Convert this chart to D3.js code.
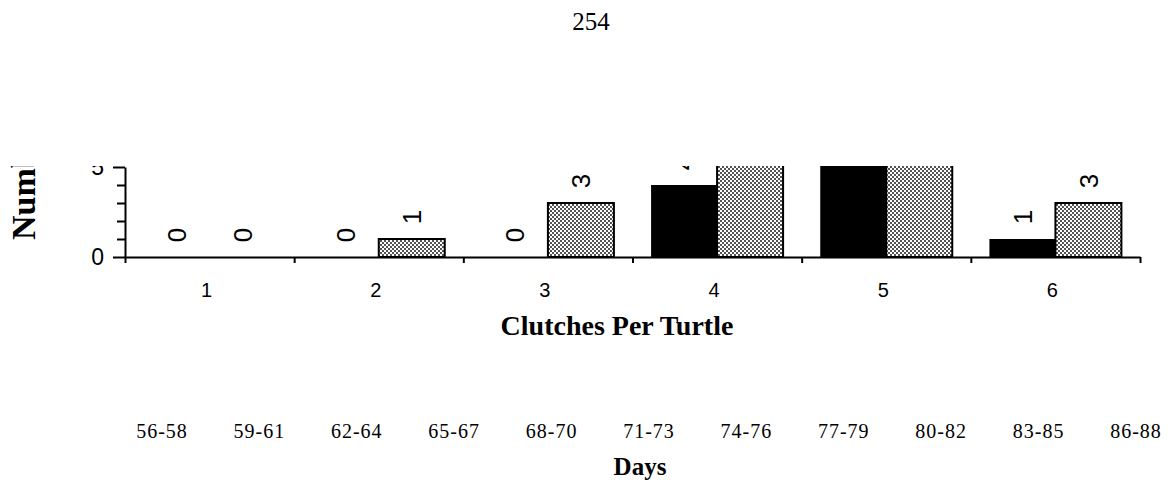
<!DOCTYPE html>
<head>
    <meta charset="utf-8">
    <style>
        body { margin: 0; background: #fff; }
        .serif { font-family: "Liberation Serif", "Times New Roman", serif; fill: #000; }
        .sans { font-family: "Liberation Sans", Arial, sans-serif; fill: #000; }
        .axis path, .axis line { stroke: #000; stroke-width: 2px; }
        .solid-bar { fill: #000; }
        .dotted-bar { fill: url(#stipple); stroke: #000; stroke-width: 2px; }
    </style>
</head>

<body>
    <script src="https://d3js.org/d3.v7.min.js"></script>

    <script>
        // data (bars above 5 are cut off by the page crop)
        var clutches = ["1", "2", "3", "4", "5", "6"];
        var solidCounts = [0, 0, 0, 4, 8, 1];
        var dottedCounts = [0, 1, 3, 7, 6, 3];
        var dayRanges = ["56-58", "59-61", "62-64", "65-67", "68-70", "71-73",
                         "74-76", "77-79", "80-82", "83-85", "86-88"];
        var yTicks = [0, 1, 2, 3, 4, 5];
        var yLabelTicks = [0, 5];
        var edgeTicks = [0, 1, 2, 3, 4, 5, 6];

        var width = 1172,
            height = 486;

        var svg = d3.select("body").append("svg")
            .attr("width", width)
            .attr("height", height);

        var defs = svg.append("defs");

        //dot screen used for the light bars
        var pat = defs.append("pattern")
            .attr("id", "stipple")
            .attr("patternUnits", "userSpaceOnUse")
            .attr("width", 4)
            .attr("height", 4);
        pat.append("rect").attr("width", 4).attr("height", 4).attr("fill", "#fff");
        pat.append("circle").attr("cx", 1).attr("cy", 1).attr("r", 0.9).attr("fill", "#000");
        pat.append("circle").attr("cx", 3).attr("cy", 3).attr("r", 0.9).attr("fill", "#000");

        //the scan is cut off just above the 5 tick
        defs.append("clipPath")
            .attr("id", "crop")
            .append("rect")
            .attr("x", 0)
            .attr("y", 166)
            .attr("width", width)
            .attr("height", height - 166);

        var x = d3.scaleBand().domain(clutches).range([125, 1140]);
        var xEdge = d3.scaleLinear().domain([0, 6]).range([125, 1140]);
        var y = d3.scaleLinear().domain([0, 5]).range([257, 167]);
        var xs = d3.scaleBand().domain(["solid", "dotted"]).range([-66, 66]);

        var rows = clutches.map(function(c, i) {
            return [
                {c: c, s: "solid", v: solidCounts[i]},
                {c: c, s: "dotted", v: dottedCounts[i]}
            ];
        }).flat();

        var plot = svg.append("g").attr("clip-path", "url(#crop)");

        //bars
        plot.selectAll(".bar")
            .data(rows.filter(function(d) { return d.v > 0; }))
            .enter().append("rect")
            .attr("class", function(d) { return d.s + "-bar"; })
            .attr("x", function(d) { return x(d.c) + x.bandwidth() / 2 + xs(d.s); })
            .attr("width", xs.bandwidth())
            .attr("y", function(d) { return y(d.v); })
            .attr("height", function(d) { return y(0) - y(d.v); });

        //value labels, set sideways as in the original
        plot.selectAll(".val")
            .data(rows)
            .enter().append("text")
            .attr("class", "sans")
            .attr("transform", function(d) {
                var cx = x(d.c) + x.bandwidth() / 2 + xs(d.s) + xs.bandwidth() / 2;
                return "translate(" + cx + "," + (y(d.v) - 22) + ") rotate(-90)";
            })
            .attr("text-anchor", "middle")
            .attr("dy", "0.35em")
            .style("font-size", "26px")
            .text(function(d) { return d.v; });

        //y axis
        var yAxis = plot.append("g")
            .attr("class", "axis")
            .attr("transform", "translate(125,0)")
            .call(d3.axisLeft(y)
                .tickValues(yTicks)
                .tickSize(8)
                .tickSizeOuter(0)
                .tickPadding(13)
                .tickFormat(function(d) { return yLabelTicks.indexOf(d) >= 0 ? d : ""; }));
        yAxis.selectAll(".tick")
            .filter(function(d) { return yLabelTicks.indexOf(d) >= 0; })
            .select("line").attr("x2", -12);
        yAxis.selectAll("text")
            .attr("class", "sans")
            .attr("font-family", null)
            .style("font-size", "23px");

        //y title (mostly lost in the crop)
        plot.append("text")
            .attr("class", "serif")
            .attr("transform", "translate(35,240) rotate(-90)")
            .style("font-size", "34px")
            .style("font-weight", "bold")
            .text("Number of Turtles");

        //x axis line with ticks on the group edges
        svg.append("g")
            .attr("class", "axis")
            .attr("transform", "translate(0," + y(0) + ")")
            .call(d3.axisBottom(xEdge)
                .tickValues(edgeTicks)
                .tickSize(6)
                .tickSizeOuter(0)
                .tickFormat(""));

        //category labels
        var xLab = svg.append("g")
            .attr("transform", "translate(-3," + y(0) + ")")
            .call(d3.axisBottom(x).tickSize(0).tickPadding(26));
        xLab.select(".domain").remove();
        xLab.selectAll("text")
            .attr("class", "sans")
            .attr("font-family", null)
            .style("font-size", "20px");

        svg.append("text")
            .attr("class", "serif")
            .attr("x", 617)
            .attr("y", 335)
            .attr("text-anchor", "middle")
            .style("font-size", "28px")
            .style("font-weight", "bold")
            .text("Clutches Per Turtle");

        //day ranges row
        var days = d3.scalePoint().domain(dayRanges).range([162, 1136]);
        svg.selectAll(".day")
            .data(dayRanges)
            .enter().append("text")
            .attr("class", "serif")
            .attr("x", function(d) { return days(d); })
            .attr("y", 438)
            .attr("text-anchor", "middle")
            .style("font-size", "20px")
            .style("letter-spacing", "1px")
            .text(function(d) { return d; });

        svg.append("text")
            .attr("class", "serif")
            .attr("x", 640)
            .attr("y", 475)
            .attr("text-anchor", "middle")
            .style("font-size", "25px")
            .style("font-weight", "bold")
            .text("Days");

        //page number
        svg.append("text")
            .attr("class", "serif")
            .attr("x", 591)
            .attr("y", 30)
            .attr("text-anchor", "middle")
            .style("font-size", "25px")
            .text("254");
    </script>
</body>
